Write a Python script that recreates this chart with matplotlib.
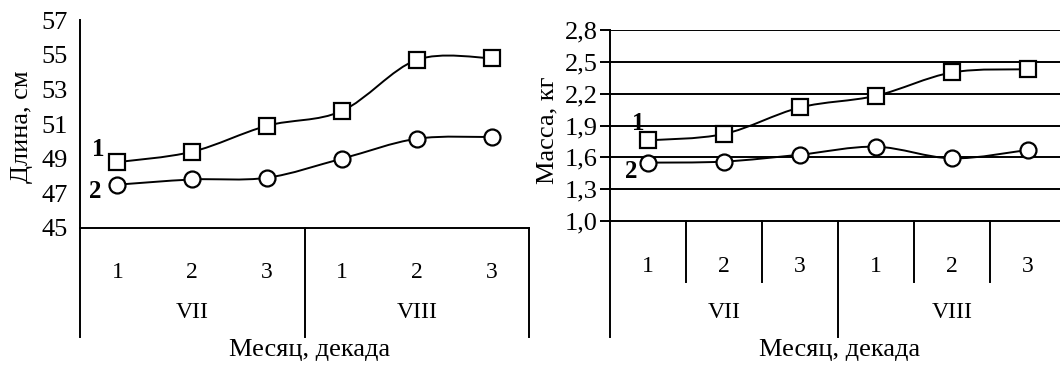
import numpy as np
import matplotlib.pyplot as plt
from matplotlib.path import Path
from matplotlib.patches import PathPatch
from matplotlib.transforms import blended_transform_factory

plt.rcParams['font.family'] = ['Liberation Serif', 'DejaVu Serif']

# data
decades = ['1', '2', '3', '1', '2', '3']
months = ['VII', 'VIII']
length_1 = [48.8, 49.4, 50.9, 51.75, 54.7, 54.8]
length_2 = [47.5, 47.8, 47.9, 49.0, 50.15, 50.25]
mass_1 = [1.76, 1.82, 2.07, 2.18, 2.40, 2.43]
mass_2 = [1.55, 1.56, 1.625, 1.70, 1.59, 1.67]
length_ticks = [45, 47, 49, 51, 53, 55, 57]
mass_ticks = [1.0, 1.3, 1.6, 1.9, 2.2, 2.5, 2.8]
mass_ticklabels = ['1,0', '1,3', '1,6', '1,9', '2,2', '2,5', '2,8']

W, H = 1060, 365
LW = 1.4
FS_TICK = 19
FS_LABEL = 19
FS_CAT = 17


def box(left, top, right, bottom):
    # pixel box -> figure fraction
    return [left / W, 1 - bottom / H, (right - left) / W, (bottom - top) / H]


def smooth_line(ax, x, y):
    # Excel style smoothed line, cubic bezier through the points
    pts = np.column_stack([x, y])
    n = len(pts)
    verts = [pts[0]]
    codes = [Path.MOVETO]
    for i in range(n - 1):
        p0 = pts[max(i - 1, 0)]
        p1 = pts[i]
        p2 = pts[i + 1]
        p3 = pts[min(i + 2, n - 1)]
        verts += [p1 + (p2 - p0) / 6, p2 - (p3 - p1) / 6, p2]
        codes += [Path.CURVE4] * 3
    ax.add_patch(PathPatch(Path(verts, codes), fill=False, lw=LW,
                           edgecolor='black', zorder=2))


def category_box(ax, depth, div_depth, dec_y, mon_y):
    tr = blended_transform_factory(ax.transData, ax.transAxes)
    for xv in [0, 3, 6]:
        ax.plot([xv, xv], [0, -depth], color='black', lw=LW,
                transform=tr, clip_on=False)
    if div_depth:
        for xv in [1, 2, 4, 5]:
            ax.plot([xv, xv], [0, -div_depth], color='black', lw=LW,
                    transform=tr, clip_on=False)
    for i, d in enumerate(decades):
        ax.text(i + 0.5, dec_y, d, transform=tr, ha='center', va='center',
                fontsize=FS_CAT)
    for i, m in enumerate(months):
        ax.text(1.5 + 3 * i, mon_y, m, transform=tr, ha='center',
                va='center', fontsize=FS_CAT)


def draw_series(ax, x, s1, s2):
    smooth_line(ax, x, s1)
    smooth_line(ax, x, s2)
    ax.plot(x, s1, 's', ms=12, mfc='white', mec='black', mew=1.6, zorder=3)
    ax.plot(x, s2, 'o', ms=11.5, mfc='white', mec='black', mew=1.6, zorder=3)


x = np.arange(len(decades)) + 0.5
fig = plt.figure(figsize=(W / 100, H / 100), dpi=100)

# left panel: length
ax1 = fig.add_axes(box(80, 20, 529, 228))
ax1.set_xlim(0, 6)
ax1.set_ylim(45, 57)
ax1.set_yticks(length_ticks)
ax1.set_xticks([])
ax1.tick_params(axis='y', length=0, pad=9, labelsize=FS_TICK)
for s in ['top', 'right']:
    ax1.spines[s].set_visible(False)
for s in ['left', 'bottom']:
    ax1.spines[s].set_linewidth(LW)
draw_series(ax1, x, length_1, length_2)
ax1.annotate('1', (x[0], length_1[0]), xytext=(-19, 13),
             textcoords='offset pixels', ha='center', va='center',
             fontsize=18, fontweight='bold')
ax1.annotate('2', (x[0], length_2[0]), xytext=(-22, -7),
             textcoords='offset pixels', ha='center', va='center',
             fontsize=18, fontweight='bold')
category_box(ax1, 109 / 208, 0, -45 / 208, -84 / 208)
fig.text(22 / W, 1 - 127 / H, 'Длина, см', rotation=90, ha='center',
         va='center', fontsize=FS_LABEL)
fig.text(310 / W, 1 - 350 / H, 'Месяц, декада', ha='center', va='center',
         fontsize=FS_LABEL)

# right panel: mass
ax2 = fig.add_axes(box(610, 30, 1066, 221))
ax2.set_xlim(0, 6)
ax2.set_ylim(1.0, 2.8)
ax2.set_yticks(mass_ticks)
ax2.set_yticklabels(mass_ticklabels)
ax2.set_xticks([])
ax2.tick_params(axis='y', length=7, width=LW, pad=2, labelsize=FS_TICK)
for s in ['top', 'right']:
    ax2.spines[s].set_visible(False)
for s in ['left', 'bottom']:
    ax2.spines[s].set_linewidth(LW)
for t in mass_ticks[1:]:
    ax2.axhline(t, color='black', lw=LW, zorder=1)
draw_series(ax2, x, mass_1, mass_2)
ax2.annotate('1', (x[0], mass_1[0]), xytext=(-10, 17),
             textcoords='offset pixels', ha='center', va='center',
             fontsize=18, fontweight='bold')
ax2.annotate('2', (x[0], mass_2[0]), xytext=(-17, -9),
             textcoords='offset pixels', ha='center', va='center',
             fontsize=18, fontweight='bold')
category_box(ax2, 116 / 191, 61 / 191, -45 / 191, -92 / 191)
fig.text(547 / W, 1 - 130 / H, 'Масса, кг', rotation=90, ha='center',
         va='center', fontsize=FS_LABEL)
fig.text(840 / W, 1 - 350 / H, 'Месяц, декада', ha='center', va='center',
         fontsize=FS_LABEL)

fig.savefig('out.png', dpi=100)
